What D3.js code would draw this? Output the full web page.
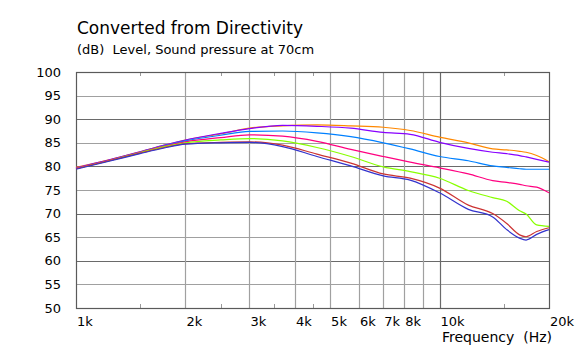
<!DOCTYPE html>
<html lang="en">
<head>
<meta charset="UTF-8">
<title>Converted from Directivity</title>
<script src="https://d3js.org/d3.v7.min.js"></script>
<style>
  body { margin: 0; background: #fff; }
  text { font-family: "DejaVu Sans", Verdana, sans-serif; fill: #000; white-space: pre; }
</style>
</head>
<body>
<svg width="578" height="351"></svg>
<script>
// frequencies (Hz) shared by all curves
var freqs = [1000, 1250, 1500, 1750, 2000, 2500, 3000, 3700, 4600, 5700, 7000, 8300,
             10000, 12000, 14000, 15300, 16600, 17300, 18500, 20000];

// level (dB) per curve
var orange = [79.8, 81.5, 83.1, 84.5, 85.6, 86.9, 88.1, 88.6, 88.8, 88.6, 88.3, 87.6,
              86.2, 85.0, 83.7, 83.5, 83.2, 83.0, 82.3, 81.0];
var purple = [79.7, 81.5, 83.1, 84.5, 85.6, 87.0, 88.0, 88.7, 88.5, 88.1, 87.2, 86.8,
              85.1, 83.8, 83.0, 82.7, 82.3, 82.0, 81.5, 80.9];
var blue   = [79.6, 81.4, 83.0, 84.4, 85.4, 86.6, 87.4, 87.5, 87.1, 86.3, 85.0, 83.7,
              82.1, 81.2, 80.1, 79.8, 79.5, 79.4, 79.4, 79.4];
var pink   = [79.6, 81.4, 83.0, 84.3, 85.2, 86.1, 86.7, 86.4, 85.3, 83.6, 82.1, 80.9,
              79.7, 78.4, 77.0, 76.6, 76.2, 75.9, 75.6, 74.4];
var green  = [79.5, 81.3, 82.9, 84.2, 85.0, 85.6, 85.9, 85.4, 84.0, 82.1, 79.9, 78.9,
              77.5, 74.9, 73.4, 72.6, 70.6, 69.9, 67.6, 67.3];
var red    = [79.5, 81.3, 82.8, 84.0, 84.8, 85.1, 85.2, 84.5, 82.6, 80.7, 78.4, 77.5,
              75.4, 71.8, 70.0, 67.9, 65.5, 65.1, 66.2, 67.0];
var navy   = [79.4, 81.2, 82.7, 83.9, 84.7, 85.0, 85.1, 84.2, 82.1, 80.1, 78.0, 77.1,
              74.4, 70.9, 69.3, 66.6, 64.8, 64.4, 65.6, 66.6];

var seriesList = [orange, purple, blue, pink, green, red, navy];
var seriesColors = ["#ff8800", "#8800ff", "#0080ff", "#ff0080", "#88ff00", "#cc3333", "#3333cc"];

var yTicks = [50, 55, 60, 65, 70, 75, 80, 85, 90, 95, 100];
var xTicks = [1000, 2000, 3000, 4000, 5000, 6000, 7000, 8000, 10000, 20000];
var xTickLabels = ["1k", "2k", "3k", "4k", "5k", "6k", "7k", "8k", "10k", "20k"];
var xGrid = [2000, 3000, 4000, 5000, 6000, 7000, 8000, 9000, 10000];
var xMinor = [1500, 2500, 3500, 4500, 15000];

var pLeft = 76, pRight = 549, pTop = 72, pBottom = 308;

var svg = d3.select("svg");

var x = d3.scaleLog().domain([1000, 20000]).range([pLeft, pRight]);
var y = d3.scaleLinear().domain([50, 100]).range([pBottom, pTop]);

// title
svg.append("text")
   .attr("x", 77).attr("y", 34)
   .style("font-size", "17px")
   .text("Converted from Directivity");
svg.append("text")
   .attr("x", 77).attr("y", 54)
   .style("font-size", "13px")
   .text("(dB)  Level, Sound pressure at 70cm");

// horizontal grid
svg.append("g").selectAll("line")
   .data(yTicks.filter(function(d) { return d > 50 && d < 100; }))
   .enter().append("line")
   .attr("x1", pLeft).attr("x2", pRight)
   .attr("y1", function(d) { return Math.round(y(d)) + 0.5; })
   .attr("y2", function(d) { return Math.round(y(d)) + 0.5; })
   .attr("stroke", function(d) { return d % 10 === 0 ? "#6a6a6a" : "#a0a0a0"; })
   .attr("stroke-width", 1.2);

// vertical grid
svg.append("g").selectAll("line")
   .data(xGrid)
   .enter().append("line")
   .attr("x1", function(d) { return Math.round(x(d)) + 0.5; })
   .attr("x2", function(d) { return Math.round(x(d)) + 0.5; })
   .attr("y1", pTop).attr("y2", pBottom)
   .attr("stroke", function(d) { return d === 10000 ? "#6a6a6a" : "#a0a0a0"; })
   .attr("stroke-width", 1.2);

// minor ticks top and bottom
var minor = svg.append("g");
xMinor.forEach(function(f) {
    var px = Math.round(x(f)) + 0.5;
    minor.append("line").attr("x1", px).attr("x2", px)
         .attr("y1", pTop).attr("y2", pTop + 4).attr("stroke", "#999");
    minor.append("line").attr("x1", px).attr("x2", px)
         .attr("y1", pBottom - 4).attr("y2", pBottom).attr("stroke", "#999");
});

// frame
svg.append("rect")
   .attr("x", pLeft + 0.5).attr("y", pTop + 0.5)
   .attr("width", pRight - pLeft).attr("height", pBottom - pTop)
   .attr("fill", "none").attr("stroke", "#5a5a5a").attr("stroke-width", 1.2);

// y labels
svg.append("g").selectAll("text")
   .data(yTicks)
   .enter().append("text")
   .attr("x", 61)
   .attr("y", function(d) { return y(d) + 4.5; })
   .attr("text-anchor", "end")
   .style("font-size", "13px")
   .text(function(d) { return d; });

// x labels
svg.append("g").selectAll("text")
   .data(xTicks)
   .enter().append("text")
   .attr("x", function(d) { return x(d) + 1; })
   .attr("y", 326)
   .style("font-size", "13px")
   .text(function(d, i) { return xTickLabels[i]; });

svg.append("text")
   .attr("x", 442).attr("y", 342)
   .style("font-size", "14px")
   .text("Frequency  (Hz)");

// curves
var line = d3.line()
    .x(function(d, i) { return x(freqs[i]); })
    .y(function(d) { return y(d); })
    .curve(d3.curveMonotoneX);

svg.append("g").selectAll("path")
   .data(seriesList)
   .enter().append("path")
   .attr("d", line)
   .attr("fill", "none")
   .attr("stroke", function(d, i) { return seriesColors[i]; })
   .attr("stroke-width", 1.2);
</script>
</body>
</html>
